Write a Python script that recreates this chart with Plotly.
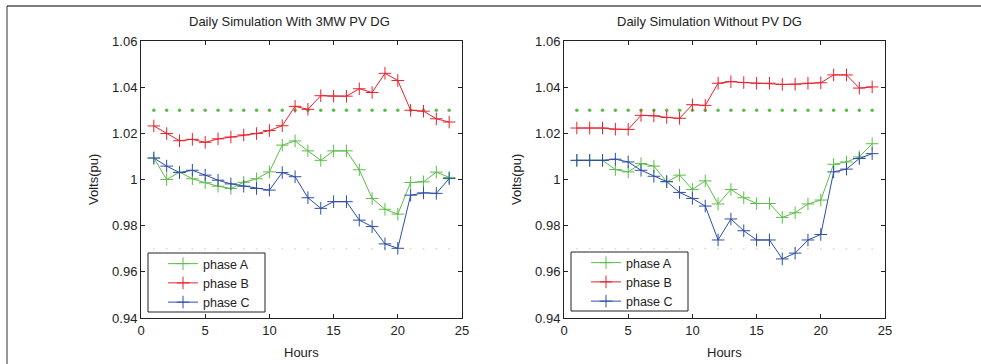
import plotly.graph_objects as go

hours = list(range(1, 25))

# Daily simulation with 3MW PV DG
with_A = [1.0093, 1.0000, 1.0032, 1.0003, 0.9986, 0.9971, 0.9961, 0.9988, 1.0003, 1.0033,
          1.0149, 1.0167, 1.0124, 1.0083, 1.0124, 1.0124, 1.0042, 0.9918, 0.9871, 0.9850,
          0.9987, 0.9990, 1.0032, 1.0009]
with_B = [1.0232, 1.0199, 1.0168, 1.0174, 1.0161, 1.0176, 1.0184, 1.0193, 1.0199, 1.0212,
          1.0233, 1.0317, 1.0304, 1.0363, 1.0361, 1.0361, 1.0393, 1.0377, 1.0460, 1.0429,
          1.0300, 1.0296, 1.0263, 1.0249]
with_C = [1.0093, 1.0058, 1.0030, 1.0040, 1.0019, 0.9997, 0.9981, 0.9971, 0.9961, 0.9954,
          1.0030, 1.0012, 0.9921, 0.9875, 0.9904, 0.9904, 0.9824, 0.9796, 0.9721, 0.9702,
          0.9932, 0.9942, 0.9940, 1.0004]

# Daily simulation without PV DG
without_A = [1.0083, 1.0083, 1.0083, 1.0043, 1.0033, 1.0069, 1.0058, 0.9990, 1.0019, 0.9957,
             0.9994, 0.9894, 0.9957, 0.9921, 0.9896, 0.9896, 0.9836, 0.9856, 0.9894, 0.9911,
             1.0066, 1.0076, 1.0098, 1.0155]
without_B = [1.0223, 1.0223, 1.0223, 1.0218, 1.0217, 1.0278, 1.0276, 1.0269, 1.0265, 1.0324,
             1.0321, 1.0417, 1.0424, 1.0420, 1.0417, 1.0417, 1.0412, 1.0413, 1.0417, 1.0419,
             1.0453, 1.0453, 1.0396, 1.0401]
without_C = [1.0083, 1.0083, 1.0083, 1.0088, 1.0076, 1.0040, 1.0014, 0.9991, 0.9944, 0.9918,
             0.9885, 0.9738, 0.9829, 0.9778, 0.9738, 0.9738, 0.9656, 0.9681, 0.9738, 0.9762,
             1.0033, 1.0045, 1.0091, 1.0112]

upper_limit = [1.03] * 24
lower_limit = [0.97] * 24

series_names = ["phase A", "phase B", "phase C"]
colors = ["#5cbd48", "#e8222c", "#2d4ea6"]
x_ticks = [0, 5, 10, 15, 20, 25]
y_ticks = [0.94, 0.96, 0.98, 1.00, 1.02, 1.04, 1.06]
y_tick_text = ["0.94", "0.96", "0.98", "1", "1.02", "1.04", "1.06"]
titles = ["Daily Simulation With 3MW PV DG", "Daily Simulation Without PV DG"]

W, H = 981, 364
L, R, T, B = 141, 96, 41, 46
PW, PH = W - L - R, H - T - B


def px(x):
    return (x - L) / PW


def py(y):
    return (H - B - y) / PH


FONT = "Liberation Sans, Arial, Helvetica, sans-serif"

fig = go.Figure()

panels = [
    ("x", "y", "legend", [with_A, with_B, with_C]),
    ("x2", "y2", "legend2", [without_A, without_B, without_C]),
]

for xa, ya, lg, data in panels:
    fig.add_trace(go.Scatter(x=hours, y=upper_limit, mode="markers", xaxis=xa, yaxis=ya,
                             marker=dict(symbol="circle", size=3.5, color="#5cbd48"),
                             showlegend=False, hoverinfo="skip"))
    fig.add_trace(go.Scatter(x=hours, y=lower_limit, mode="markers", xaxis=xa, yaxis=ya,
                             marker=dict(symbol="circle", size=2, color="#e2e2c8"),
                             showlegend=False, hoverinfo="skip"))
    for name, vals, c in zip(series_names, data, colors):
        fig.add_trace(go.Scatter(
            x=hours, y=vals, mode="lines+markers", name=name, xaxis=xa, yaxis=ya,
            legend=lg,
            line=dict(color=c, width=1),
            marker=dict(symbol="cross-thin", size=9, color=c, line=dict(color=c, width=1)),
        ))

axis_common = dict(showline=True, linecolor="#222", linewidth=1, mirror="ticks",
                   ticks="inside", ticklen=4, tickcolor="#222", showgrid=False,
                   zeroline=False, tickfont=dict(family=FONT, size=13, color="#222"))

legend_common = dict(xanchor="left", yanchor="top", borderwidth=0,
                     bgcolor="rgba(0,0,0,0)",
                     font=dict(family=FONT, size=12.5, color="#222"), tracegroupgap=0)

fig.update_layout(
    width=W, height=H, autosize=False,
    margin=dict(l=L, r=R, t=T, b=B, pad=0),
    paper_bgcolor="white", plot_bgcolor="white",
    font=dict(family=FONT, size=13, color="#222"),
    xaxis=dict(domain=[0, px(462)], range=[0, 25], tickvals=x_ticks, anchor="y", **axis_common),
    yaxis=dict(domain=[0, 1], range=[0.94, 1.06], tickvals=y_ticks, ticktext=y_tick_text,
               anchor="x", **axis_common),
    xaxis2=dict(domain=[px(564), 1], range=[0, 25], tickvals=x_ticks, anchor="y2", **axis_common),
    yaxis2=dict(domain=[0, 1], range=[0.94, 1.06], tickvals=y_ticks, ticktext=y_tick_text,
                anchor="x2", **axis_common),
    legend=dict(x=px(163), y=py(249), **legend_common),
    legend2=dict(x=px(586), y=py(248), **legend_common),
    showlegend=True,
)

annotations = [
    dict(text=titles[0], x=px(289), y=py(22), xref="paper", yref="paper",
         showarrow=False, xanchor="center", yanchor="middle", font=dict(size=13)),
    dict(text=titles[1], x=px(709), y=py(22), xref="paper", yref="paper",
         showarrow=False, xanchor="center", yanchor="middle", font=dict(size=13)),
    dict(text="Hours", x=px(301), y=py(352), xref="paper", yref="paper",
         showarrow=False, xanchor="center", yanchor="middle", font=dict(size=13)),
    dict(text="Hours", x=px(724), y=py(352), xref="paper", yref="paper",
         showarrow=False, xanchor="center", yanchor="middle", font=dict(size=13)),
    dict(text="Volts(pu)", x=px(93), y=py(180), xref="paper", yref="paper", textangle=-90,
         showarrow=False, xanchor="center", yanchor="middle", font=dict(size=13)),
    dict(text="Volts(pu)", x=px(516), y=py(180), xref="paper", yref="paper", textangle=-90,
         showarrow=False, xanchor="center", yanchor="middle", font=dict(size=13)),
]
fig.update_layout(annotations=annotations)

fig.update_layout(shapes=[
    dict(type="line", xref="paper", yref="paper", x0=px(7), x1=px(981), y0=py(6), y1=py(6),
         line=dict(color="#7a7a7a", width=2)),
    dict(type="line", xref="paper", yref="paper", x0=px(7), x1=px(7), y0=py(6), y1=py(364),
         line=dict(color="#333", width=1)),
    # legend boxes
    dict(type="rect", xref="paper", yref="paper", layer="above",
         x0=px(148), x1=px(265), y0=py(312), y1=py(253),
         fillcolor="white", line=dict(color="#222", width=1)),
    dict(type="rect", xref="paper", yref="paper", layer="above",
         x0=px(571), x1=px(688), y0=py(311), y1=py(252),
         fillcolor="white", line=dict(color="#222", width=1)),
])

fig.write_html("out.html")
